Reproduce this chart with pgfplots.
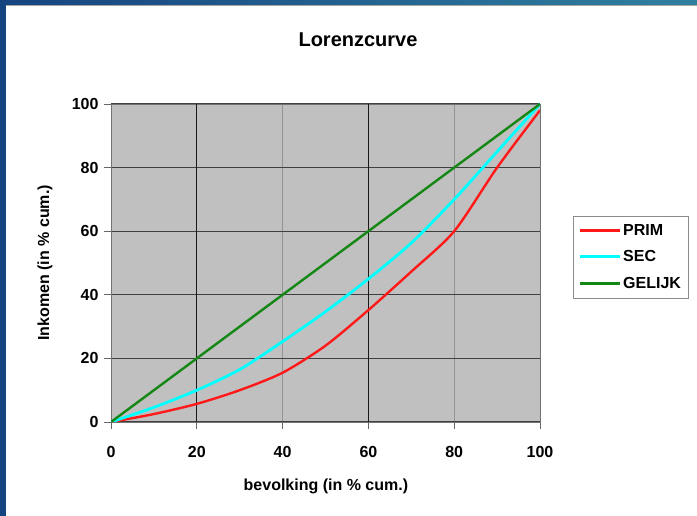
\documentclass[border=0pt]{standalone}
\usepackage{pgfplots}
\pgfplotsset{compat=1.18}
\usepackage{fontspec}
\setmainfont{Liberation Sans}
\usetikzlibrary{shadings}
\definecolor{plotgray}{RGB}{192,192,192}
\definecolor{primred}{RGB}{255,25,25}
\definecolor{seccyan}{RGB}{0,255,255}
\definecolor{gelijkgreen}{RGB}{20,135,20}
\definecolor{framedark}{RGB}{22,68,128}
\definecolor{frameteal}{RGB}{48,128,160}
\begin{document}
\begin{tikzpicture}[x=1pt,y=1pt]
\useasboundingbox (0,0) rectangle (697,516);
\fill[white] (0,0) rectangle (697,516);
\shade[left color=framedark,right color=frameteal] (0,511) rectangle (697,516);
\fill[black!35] (6,510) rectangle (697,511);
\fill[framedark] (0,0) rectangle (6,516);
\node[font=\bfseries\fontsize{20}{24}\selectfont] at (358,476) {Lorenzcurve};
\begin{axis}[
  at={(111pt,94pt)}, anchor=south west,
  scale only axis, width=429pt, height=318pt,
  xmin=0, xmax=100, ymin=0, ymax=100,
  xtick={0,20,...,100}, ytick={0,20,...,100},
  axis background/.style={fill=plotgray},
  axis line style={black!55},
  tick align=outside, major tick length=7pt,
  xtick pos=left, ytick pos=left,
  tick style={black!60, line width=0.8pt},
  xmajorgrids, ymajorgrids,
  every axis y grid/.style={black!75, line width=1pt},
  every axis x grid/.style={black!42, line width=0.8pt},
  extra x ticks={20,60}, extra x tick labels={},
  extra x tick style={every axis x grid/.style={black!90, line width=1pt}},
  ticklabel style={font=\bfseries\fontsize{16}{19}\selectfont},
  xticklabel style={yshift=-14pt},
  yticklabel style={xshift=-2pt},
  /pgf/number format/assume math mode=true,
  xlabel={bevolking (in \% cum.)},
  ylabel={Inkomen (in \% cum.)},
  every axis x label/.style={at={(axis description cs:0.501,-0.201)},anchor=center,
    font=\bfseries\fontsize{16}{19}\selectfont},
  every axis y label/.style={at={(axis description cs:-0.154,0.5)},anchor=center,rotate=90,
    font=\bfseries\fontsize{16}{19}\selectfont},
  legend style={at={(1.077,0.648)}, anchor=north west, draw=black!45, fill=white,
    font=\bfseries\fontsize{16}{19}\selectfont, row sep=10pt, inner xsep=5pt, inner ysep=6pt},
  legend cell align=left,
  legend image code/.code={\draw[#1, line width=3pt] (0pt,0pt) -- (40pt,0pt);},
]
\addplot[primred, line width=2.4pt, smooth, tension=0.45] coordinates {
  (0,0) (10,2.5) (20,5.7) (30,10) (40,15.5) (50,24) (60,35.2) (70,47.3) (80,60) (90,80) (100,98)
};
\addlegendentry{PRIM}
\addplot[seccyan, line width=2.8pt, smooth, tension=0.45] coordinates {
  (0,0) (10,4.6) (20,10) (30,16.5) (40,25.3) (50,34.7) (60,45) (70,56.3) (80,70) (90,85) (100,100)
};
\addlegendentry{SEC}
\addplot[gelijkgreen, line width=2.4pt] coordinates {
  (0,0) (20,20) (40,40) (60,60) (80,80) (100,100)
};
\addlegendentry{GELIJK}
\end{axis}
\end{tikzpicture}
\end{document}
